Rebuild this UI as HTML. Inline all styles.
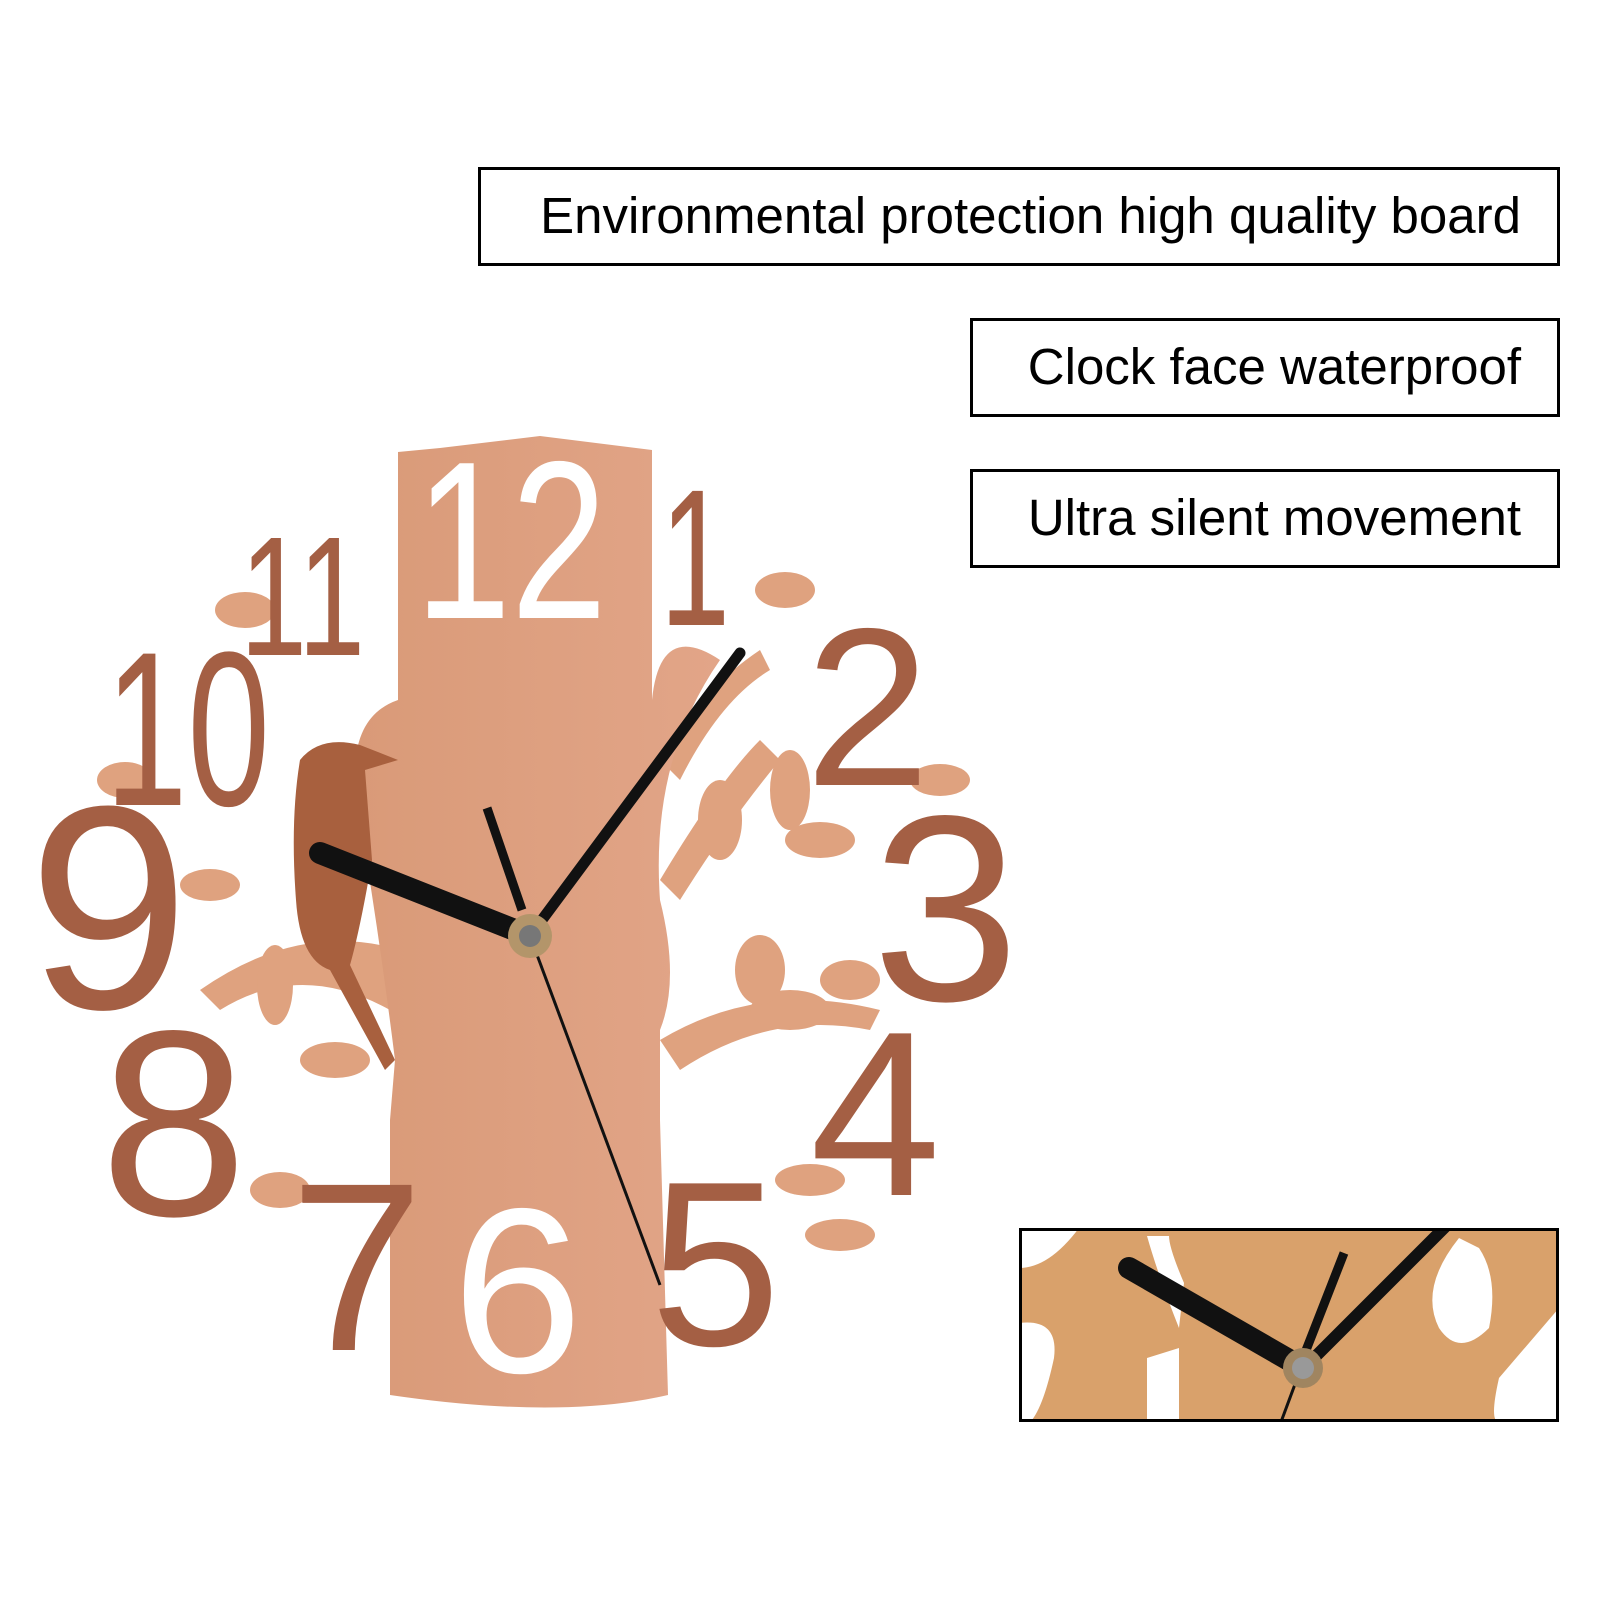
<!DOCTYPE html>
<html><head><style>
html,body{margin:0;padding:0;background:#fff}
body{width:1600px;height:1600px;position:relative;overflow:hidden;font-family:"Liberation Sans",sans-serif}
.box{position:absolute;border:3px solid #000;box-sizing:border-box;font-size:51px;color:#000;text-align:right;padding-right:36px;line-height:92px}
</style></head><body>
<div class="box" style="left:478px;top:167px;width:1082px;height:99px">Environmental protection high quality board</div>
<div class="box" style="left:970px;top:318px;width:590px;height:99px">Clock face waterproof</div>
<div class="box" style="left:970px;top:469px;width:590px;height:99px">Ultra silent movement</div>

<svg width="1600" height="1600" style="position:absolute;left:0;top:0">
<defs>
<linearGradient id="w" x1="0" x2="1"><stop offset="0" stop-color="#d99a78"/><stop offset="1" stop-color="#e2a588"/></linearGradient>
</defs>
<g fill="#dfa27f">
<path d="M400 950 Q300 920 200 990 L220 1010 Q300 960 390 1010Z"/>
<path d="M660 1040 Q760 980 880 1010 L870 1030 Q770 1010 680 1070Z"/>
<path d="M660 880 Q720 780 760 740 L780 760 Q730 820 680 900Z"/>
<path d="M660 760 Q700 690 760 650 L770 670 Q720 700 680 780Z"/>
<ellipse cx="245" cy="610" rx="30" ry="18"/><ellipse cx="785" cy="590" rx="30" ry="18"/>
<ellipse cx="125" cy="780" rx="28" ry="18"/><ellipse cx="210" cy="885" rx="30" ry="16"/>
<ellipse cx="790" cy="790" rx="20" ry="40"/><ellipse cx="820" cy="840" rx="35" ry="18"/>
<ellipse cx="940" cy="780" rx="30" ry="16"/><ellipse cx="720" cy="820" rx="22" ry="40"/>
<ellipse cx="275" cy="985" rx="18" ry="40"/><ellipse cx="335" cy="1060" rx="35" ry="18"/>
<ellipse cx="280" cy="1190" rx="30" ry="18"/><ellipse cx="810" cy="1180" rx="35" ry="16"/>
<ellipse cx="840" cy="1235" rx="35" ry="16"/><ellipse cx="790" cy="1010" rx="40" ry="20"/>
<ellipse cx="760" cy="970" rx="25" ry="35"/><ellipse cx="850" cy="980" rx="30" ry="20"/>
</g>
<path d="M398 452 L440 448 L540 436 L652 450 L652 700 Q660 620 720 660 Q650 760 660 900 Q680 980 660 1030 L660 1120 L668 1395 Q560 1420 390 1395 L390 1120 L395 1060 Q380 940 360 820 Q340 720 398 700 Z" fill="url(#w)"/>
<path d="M300 760 Q320 735 360 745 L398 760 L365 770 L372 860 Q360 930 350 965 L395 1060 L385 1070 L330 970 Q300 960 296 900 Q290 820 300 760Z" fill="#a8603e"/>
<g fill="#a45f44" font-family="Liberation Sans,sans-serif">
<text x="240" y="655" font-size="170" textLength="125" lengthAdjust="spacingAndGlyphs">11</text>
<text x="660" y="625" font-size="195" textLength="70" lengthAdjust="spacingAndGlyphs">1</text>
<text x="805" y="785" font-size="225">2</text>
<text x="872" y="1000" font-size="265">3</text>
<text x="810" y="1195" font-size="235">4</text>
<text x="650" y="1345" font-size="235">5</text>
<text x="290" y="1350" font-size="240">7</text>
<text x="100" y="1215" font-size="265">8</text>
<text x="28" y="1008" font-size="290">9</text>
<text x="105" y="805" font-size="220" textLength="165" lengthAdjust="spacingAndGlyphs">10</text>
</g>
<g fill="#fff" font-family="Liberation Sans,sans-serif">
<text x="415" y="618" font-size="225" textLength="192" lengthAdjust="spacingAndGlyphs">12</text>
<text x="452" y="1372" font-size="235">6</text>
</g>
<line x1="530" y1="936" x2="660" y2="1285" stroke="#111" stroke-width="3"/>
<line x1="530" y1="936" x2="740" y2="653" stroke="#111" stroke-width="11" stroke-linecap="round"/>
<line x1="530" y1="936" x2="320" y2="853" stroke="#111" stroke-width="22" stroke-linecap="round"/>
<line x1="522" y1="910" x2="487" y2="808" stroke="#111" stroke-width="9"/>
<circle cx="530" cy="936" r="22" fill="#b3956a"/><circle cx="530" cy="936" r="11" fill="#777"/>
</svg>

<svg width="540" height="194" style="position:absolute;left:1019px;top:1228px">
<rect x="0" y="0" width="540" height="194" fill="#d9a16b"/>
<path d="M0 0 L60 0 Q30 40 0 40Z M0 95 Q40 90 35 130 Q20 200 0 200Z" fill="#fff"/>
<path d="M128 8 Q140 50 160 100 L165 55 Q150 20 150 8Z M128 130 L160 120 L160 194 L128 194Z" fill="#fff"/>
<path d="M440 10 Q400 60 420 100 Q440 130 470 100 Q480 50 460 20Z M540 80 L480 150 Q470 194 480 194 L540 194Z" fill="#fff"/>
<line x1="282" y1="140" x2="262" y2="194" stroke="#111" stroke-width="3"/>
<line x1="285" y1="140" x2="430" y2="-5" stroke="#111" stroke-width="12"/>
<line x1="284" y1="140" x2="110" y2="40" stroke="#111" stroke-width="22" stroke-linecap="round"/>
<line x1="284" y1="130" x2="325" y2="25" stroke="#111" stroke-width="9"/>
<circle cx="284" cy="140" r="20" fill="#a08560"/><circle cx="284" cy="140" r="11" fill="#999"/>
<rect x="1.5" y="1.5" width="537" height="191" fill="none" stroke="#000" stroke-width="3"/>
</svg>
</body></html>
